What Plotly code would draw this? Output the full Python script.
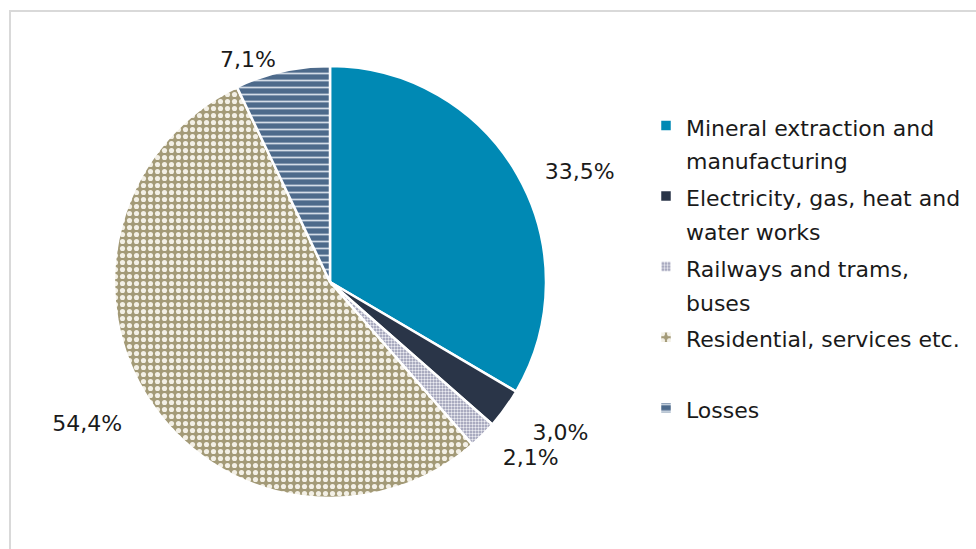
import plotly.graph_objects as go

# Final energy consumption shares by sector (%)
sectors = [
    "Mineral extraction and<br>manufacturing",
    "Electricity, gas, heat and<br>water works",
    "Railways and trams,<br>buses",
    "Residential, services etc.<br> ",
    "Losses<br> ",
]
shares = [33.5, 3.0, 2.1, 54.4, 7.1]

# Slice fills: base colour, pattern shape and pattern colour
base_colors = ["#0089B4", "#2A3548", "#9496B0", "#A39A77", "#4D6A8B"]
pattern_shapes = ["", "", ".", ".", "-"]
pattern_fg = ["#0089B4", "#2A3548", "#ECECF2", "#F3F0E6", "#D3DCE7"]
pattern_size = [8, 8, 3, 7, 7]
pattern_solidity = [0.3, 0.3, 0.5, 0.42, 0.25]

W, H = 976, 549
cx, cy, r = 330, 282, 216  # pie centre and radius in pixels

font = "DejaVu Sans"
text_color = "#1a1a1a"
NB = "\u00a0"

legend_labels = [
    "<br>".join(f'<span style="font-size:22px">{part}</span>' if part.strip() else part
                for part in s.split("<br>"))
    for s in sectors
]


def pct(v):
    s = f"{v:.1f}%".replace(".", ",")
    return f'<span style="color:{text_color}">{s}</span>'


# Outside labels, padded so they sit a little further from the rim
label_text = [
    NB * 3 + pct(shares[0]),
    " <br>" + NB * 2 + pct(shares[1]),
    NB * 2 + pct(shares[2]),
    " <br>" + pct(shares[3]) + NB * 2,
    pct(shares[4]),
]

fig = go.Figure(
    go.Pie(
        labels=legend_labels,
        values=shares,
        sort=False,
        direction="clockwise",
        rotation=0,
        text=label_text,
        textinfo="text",
        textposition="outside",
        # label colour comes from the inline span; connector lines blend into the background
        textfont=dict(family=font, size=22, color="white"),
        marker=dict(
            colors=base_colors,
            line=dict(color="white", width=2.5),
            pattern=dict(
                shape=pattern_shapes,
                fgcolor=pattern_fg,
                bgcolor=base_colors,
                size=pattern_size,
                solidity=pattern_solidity,
                fillmode="replace",
            ),
        ),
        domain=dict(
            x=[(cx - r) / W, (cx + r) / W],
            y=[(H - cy - r) / H, (H - cy + r) / H],
        ),
        hoverinfo="skip",
        automargin=False,
    )
)

fig.update_layout(
    width=W,
    height=H,
    margin=dict(l=0, r=0, t=0, b=0),
    paper_bgcolor="white",
    plot_bgcolor="white",
    font=dict(family=font, color=text_color),
    legend=dict(
        x=646 / W,
        y=1 - 102 / H,
        xanchor="left",
        yanchor="top",
        valign="top",
        font=dict(family=font, size=26, color=text_color),
        bgcolor="rgba(0,0,0,0)",
    ),
    shapes=[
        dict(
            type="rect",
            xref="paper",
            yref="paper",
            x0=10 / W,
            x1=1.05,
            y0=-0.05,
            y1=1 - 11 / H,
            line=dict(color="#D9D9D9", width=2),
            fillcolor="rgba(0,0,0,0)",
            layer="below",
        )
    ],
)

fig.write_html("out.html")
